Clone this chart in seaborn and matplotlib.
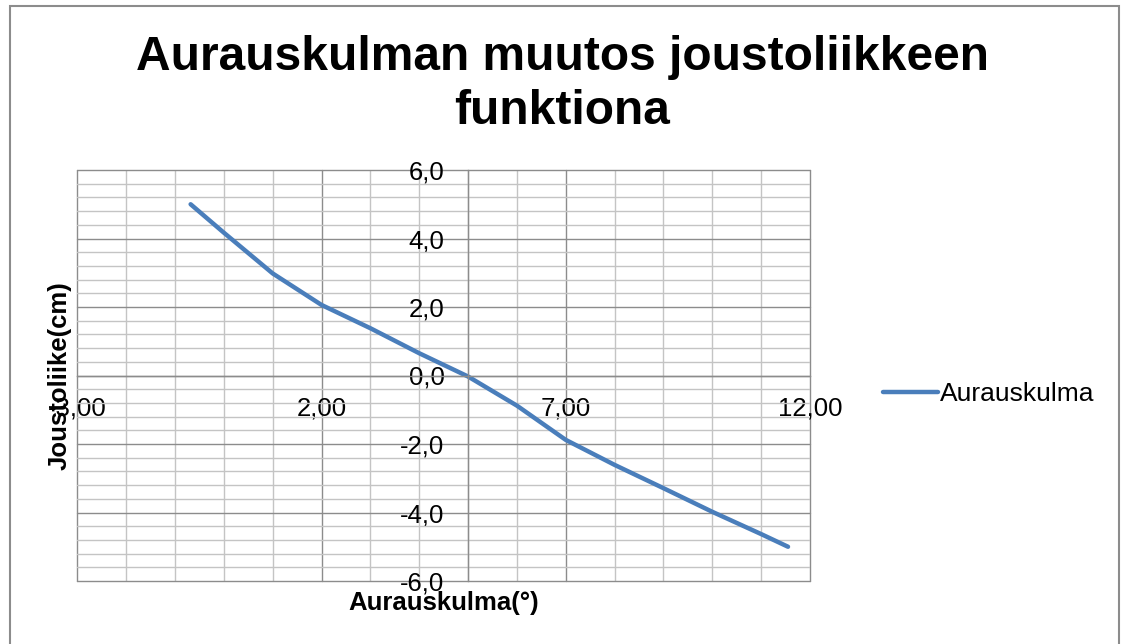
import seaborn as sns
import matplotlib.pyplot as plt
from matplotlib.patches import Rectangle
from matplotlib.ticker import MultipleLocator, FuncFormatter

# values
aurauskulma = [-0.68, 0.0, 1.0, 2.0, 3.0, 4.0, 5.0, 6.0, 7.0, 8.0, 9.0, 10.0, 11.0, 11.55]
joustoliike = [5.0, 4.17, 2.98, 2.06, 1.38, 0.65, -0.03, -0.88, -1.88, -2.61, -3.29, -3.98, -4.63, -5.0]
x_ticks = [-3, 2, 7, 12]
y_ticks = [-6, -4, -2, 0, 2, 4, 6]
series_name = 'Aurauskulma'
title = 'Aurauskulman muutos joustoliikkeen\nfunktiona'

sns.set_style('white')
plt.rcParams['font.family'] = ['Liberation Sans', 'DejaVu Sans']
plt.rcParams['text.color'] = 'black'
plt.rcParams['axes.labelcolor'] = 'black'
plt.rcParams['xtick.color'] = 'black'
plt.rcParams['ytick.color'] = 'black'

W, H = 1124, 644
fig = plt.figure(figsize=(W / 100, H / 100), dpi=100)
ax = fig.add_axes([77.3 / W, 1 - 581 / H, (810 - 77.3) / W, (581 - 170) / H])

sns.lineplot(x=aurauskulma, y=joustoliike, sort=False, ax=ax, label=series_name,
             color='#4a7ebb', linewidth=3.2, solid_capstyle='round',
             solid_joinstyle='round')

ax.set_xlim(x_ticks[0], x_ticks[-1])
ax.set_ylim(y_ticks[0], y_ticks[-1])
ax.set_xticks(x_ticks)
ax.set_yticks(y_ticks)
ax.xaxis.set_minor_locator(MultipleLocator(1))
ax.yaxis.set_minor_locator(MultipleLocator(0.4))
ax.xaxis.set_major_formatter(FuncFormatter(lambda v, p: f'{v:.2f}'.replace('.', ',')))
ax.yaxis.set_major_formatter(FuncFormatter(lambda v, p: f'{v:.1f}'.replace('.', ',')))

ax.set_axisbelow(True)
ax.grid(which='major', color='#8c8c8c', linewidth=1, clip_on=False)
ax.grid(which='minor', color='#c4c4c4', linewidth=1)

# axes cross inside the plot, like in the excel chart
for side in ['top', 'right']:
    ax.spines[side].set_visible(False)
ax.spines['left'].set_position(('data', 5))
ax.spines['bottom'].set_position(('data', 0))
for side in ['left', 'bottom']:
    ax.spines[side].set_color('#8c8c8c')
    ax.spines[side].set_linewidth(1)

ax.tick_params(axis='x', which='both', length=0, pad=15, labelsize=18.5)
ax.tick_params(axis='y', which='both', length=0, pad=17, labelsize=18.5)

ax.set_xlabel('Aurauskulma(°)', fontsize=18.5, fontweight='bold', va='baseline')
ax.xaxis.set_label_coords(0.5, -(610 - 581) / 411)
ax.set_ylabel('Joustoliike(cm)', fontsize=18.5, fontweight='bold', va='center')
ax.yaxis.set_label_coords(-0.024, 0.5)

ax.legend(loc='center left', bbox_to_anchor=(883 / W, 1 - 394 / H),
          bbox_transform=fig.transFigure, frameon=False, fontsize=19,
          handlelength=2.1, handletextpad=0.05, borderpad=0, borderaxespad=0)

fig.text(0.5, 1 - 35 / H, title, ha='center', va='top', fontsize=34.5,
         fontweight='bold', linespacing=1.25)

fig.patches.append(Rectangle((9.5 / W, -0.02), (1119 - 9.5) / W, 1.02 - 5.5 / H,
                             transform=fig.transFigure, fill=False,
                             edgecolor='#8c8c8c', linewidth=1.5))

fig.savefig('out.png', dpi=100)
